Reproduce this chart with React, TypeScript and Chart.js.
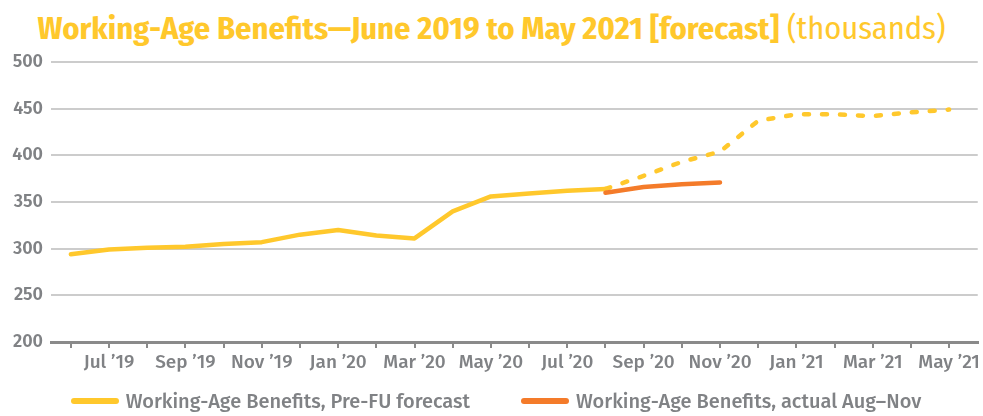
import React, { useEffect, useLayoutEffect, useRef } from "react";
import { Chart, registerables } from "chart.js";

Chart.register(...registerables);

const months = [
  "Jun \u201919", "Jul \u201919", "Aug \u201919", "Sep \u201919", "Oct \u201919", "Nov \u201919",
  "Dec \u201919", "Jan \u201920", "Feb \u201920", "Mar \u201920", "Apr \u201920", "May \u201920",
  "Jun \u201920", "Jul \u201920", "Aug \u201920", "Sep \u201920", "Oct \u201920", "Nov \u201920",
  "Dec \u201920", "Jan \u201921", "Feb \u201921", "Mar \u201921", "Apr \u201921", "May \u201921",
];

const preFuForecast = [
  294, 299, 301, 302, 305, 307, 315, 320, 314, 311, 340, 356,
  359, 362, 364, 378, 393, 404, 437, 444, 444, 442, 446, 449,
];

const actualAugNov: (number | null)[] = [
  null, null, null, null, null, null, null, null, null, null, null, null,
  null, null, 360, 366, 369, 371, null, null, null, null, null, null,
];

const forecastStartIndex = 14;

const yTicks = [200, 250, 300, 350, 400, 450, 500];

const TITLE_MAIN = "Working-Age Benefits\u2014June 2019 to May 2021 [forecast]";
const TITLE_UNIT = " (thousands)";
const LEGEND_PRE = "Working-Age Benefits, Pre-FU forecast";
const LEGEND_ACTUAL = "Working-Age Benefits, actual Aug\u2013Nov";

const YELLOW = "#FFC82C";
const ORANGE = "#F47B2A";
const GRAY_TEXT = "#808285";
const FONT = '"Fira Sans", "Open Sans", sans-serif';
const TITLE_WIDTH = 908;

export default function App() {
  const ref = useRef<HTMLCanvasElement | null>(null);
  const titleRef = useRef<HTMLSpanElement | null>(null);

  useLayoutEffect(() => {
    const el = titleRef.current;
    if (!el) return;
    const w = el.getBoundingClientRect().width;
    if (w > 0) el.style.transform = `scaleX(${TITLE_WIDTH / w})`;
  }, []);

  useEffect(() => {
    if (!ref.current) return;
    const toPts = (arr: (number | null)[]) =>
      arr.map((v, i) => ({ x: i, y: v }));
    const chart = new Chart(ref.current, {
      type: "line",
      data: {
        datasets: [
          {
            label: LEGEND_PRE,
            data: toPts(preFuForecast) as any,
            borderColor: YELLOW,
            backgroundColor: YELLOW,
            borderWidth: 4.5,
            borderCapStyle: "round",
            borderJoinStyle: "round",
            pointRadius: 0,
            tension: 0,
            order: 1,
            segment: {
              borderDash: (ctx: any) =>
                ctx.p0DataIndex >= forecastStartIndex ? [5, 13] : undefined,
            },
          },
          {
            label: LEGEND_ACTUAL,
            data: toPts(actualAugNov) as any,
            borderColor: ORANGE,
            backgroundColor: ORANGE,
            borderWidth: 4.5,
            borderCapStyle: "round",
            borderJoinStyle: "round",
            pointRadius: 0,
            tension: 0,
            order: 0,
            spanGaps: false,
          },
        ],
      },
      options: {
        animation: false,
        responsive: false,
        maintainAspectRatio: false,
        layout: { padding: { top: 62, right: 4, bottom: 34, left: 0 } },
        plugins: {
          legend: { display: false },
          title: { display: false },
          tooltip: { enabled: false },
        },
        scales: {
          x: {
            type: "linear",
            min: -0.52,
            max: 23.75,
            afterBuildTicks: (scale: any) => {
              scale.ticks = months.map((_, i) => ({ value: i }));
            },
            afterFit: (scale: any) => {
              scale.height = 40;
            },
            ticks: {
              autoSkip: false,
              maxRotation: 0,
              padding: 3,
              color: GRAY_TEXT,
              font: { family: FONT, size: 19, weight: 500 as any },
              callback: (value: any) => {
                const i = Math.round(Number(value));
                return i % 2 === 1 ? months[i] : "";
              },
            },
            grid: {
              drawOnChartArea: false,
              drawTicks: true,
              tickLength: 6,
              color: "#8a8a8a",
              lineWidth: 2,
            },
            border: { display: true, color: "#8a8a8a", width: 3 },
          },
          y: {
            min: 200,
            max: 500,
            afterBuildTicks: (scale: any) => {
              scale.ticks = yTicks.map((v) => ({ value: v }));
            },
            afterFit: (scale: any) => {
              scale.width = 51;
            },
            ticks: {
              padding: 8,
              color: GRAY_TEXT,
              font: { family: FONT, size: 18, weight: 600 as any },
            },
            grid: {
              drawTicks: false,
              color: "#cccccc",
              lineWidth: 2,
            },
            border: { display: false },
          },
        },
      },
    });
    return () => chart.destroy();
  }, []);

  return (
    <div
      style={{
        position: "fixed",
        left: 0,
        top: 0,
        width: 983,
        height: 416,
        background: "#ffffff",
        overflow: "hidden",
      }}
    >
      <div
        style={{
          position: "absolute",
          left: 0,
          top: 10,
          width: 983,
          textAlign: "center",
          whiteSpace: "nowrap",
        }}
      >
        <span
          ref={titleRef}
          style={{
            display: "inline-block",
            transformOrigin: "center",
            fontFamily:
              '"Fira Sans Condensed", "Fira Sans", "Liberation Sans Narrow", sans-serif',
            fontStretch: "condensed",
            fontSize: 31,
            lineHeight: "38px",
            fontWeight: 700,
            color: YELLOW,
          }}
        >
          {TITLE_MAIN}
          <span style={{ fontWeight: 400 }}>{TITLE_UNIT}</span>
        </span>
      </div>
      <canvas
        ref={ref}
        width={983}
        height={416}
        style={{ position: "absolute", left: 0, top: 0, width: 983, height: 416 }}
      />
      <div
        style={{
          position: "absolute",
          left: 0,
          top: 387,
          width: 983,
          display: "flex",
          justifyContent: "center",
          alignItems: "center",
          gap: 51,
          fontFamily: FONT,
          fontSize: 20,
          fontWeight: 500,
          color: GRAY_TEXT,
          lineHeight: "28px",
          paddingLeft: 9,
          boxSizing: "border-box",
        }}
      >
        <div style={{ display: "flex", alignItems: "center", gap: 7 }}>
          <span
            style={{
              display: "inline-block",
              width: 48,
              height: 6,
              borderRadius: 3,
              background: YELLOW,
            }}
          />
          <span>{LEGEND_PRE}</span>
        </div>
        <div style={{ display: "flex", alignItems: "center", gap: 7 }}>
          <span
            style={{
              display: "inline-block",
              width: 48,
              height: 6,
              borderRadius: 3,
              background: ORANGE,
            }}
          />
          <span>{LEGEND_ACTUAL}</span>
        </div>
      </div>
    </div>
  );
}
